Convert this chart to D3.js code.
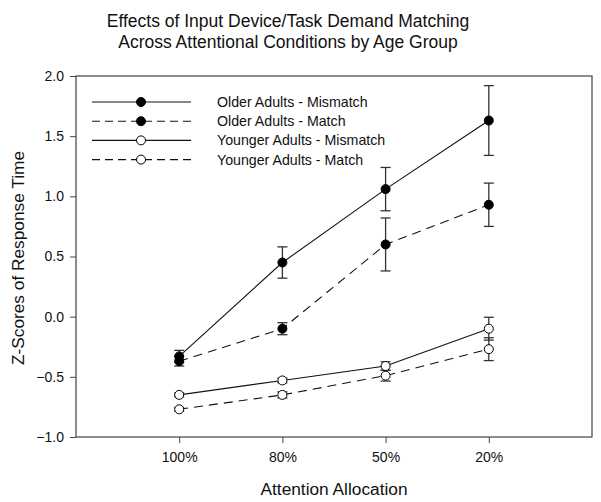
<!DOCTYPE html>
<html><head><meta charset="utf-8">
<script src="https://cdn.jsdelivr.net/npm/d3@7"></script>
<style>body{margin:0;background:#fff}svg{font-family:"Liberation Sans",Arial,sans-serif}</style>
</head><body><svg id="c" width="601" height="502"></svg>
<script>
const categories = ["100%", "80%", "50%", "20%"];
const seriesNames = ["Older Adults - Mismatch", "Older Adults - Match", "Younger Adults - Mismatch", "Younger Adults - Match"];
const olderMismatch = [-0.33, 0.45, 1.06, 1.63];
const olderMismatchErr = [0.05, 0.13, 0.18, 0.29];
const olderMatch = [-0.37, -0.10, 0.60, 0.93];
const olderMatchErr = [0.04, 0.05, 0.22, 0.18];
const youngerMismatch = [-0.65, -0.53, -0.41, -0.10];
const youngerMismatchErr = [0.015, 0.02, 0.035, 0.095];
const youngerMatch = [-0.77, -0.65, -0.49, -0.27];
const youngerMatchErr = [0.015, 0.025, 0.045, 0.095];
const yTicks = [-1.0, -0.5, 0.0, 0.5, 1.0, 1.5, 2.0];

const series = [
  {name: seriesNames[0], v: olderMismatch, e: olderMismatchErr, filled: true, dashed: false},
  {name: seriesNames[1], v: olderMatch, e: olderMatchErr, filled: true, dashed: true},
  {name: seriesNames[2], v: youngerMismatch, e: youngerMismatchErr, filled: false, dashed: false},
  {name: seriesNames[3], v: youngerMatch, e: youngerMatchErr, filled: false, dashed: true}
];

const svg = d3.select("#c");
const L = 76, R = 592, T = 76, B = 437;
const x = d3.scaleLinear().domain([0, categories.length + 1]).range([L, R]);
const y = d3.scaleLinear().domain([-1, 2]).range([B, T]);
const dash = "9,6";

// frame
svg.append("rect").attr("x", L).attr("y", T).attr("width", R - L).attr("height", B - T)
  .attr("fill", "none").attr("stroke", "#444").attr("stroke-width", 1.2);

// axes
const xAxis = d3.axisBottom(x).tickValues(categories.map((c, i) => i + 1))
  .tickFormat((d) => categories[d - 1]).tickSize(6).tickPadding(9);
const gx = svg.append("g").attr("transform", `translate(0,${B})`).call(xAxis);
gx.select(".domain").remove();
gx.selectAll("line").attr("stroke", "#444");
gx.selectAll("text").attr("font-size", 14).attr("fill", "#111").attr("font-family", "Liberation Sans, Arial, sans-serif");

const yAxis = d3.axisLeft(y).tickValues(yTicks).tickFormat(d3.format(".1f")).tickSize(6).tickPadding(6);
const gy = svg.append("g").attr("transform", `translate(${L},0)`).call(yAxis);
gy.select(".domain").remove();
gy.selectAll("line").attr("stroke", "#444");
gy.selectAll("text").attr("font-size", 14).attr("fill", "#111").attr("font-family", "Liberation Sans, Arial, sans-serif");

// titles
svg.append("text").attr("x", 288).attr("y", 27).attr("text-anchor", "middle").attr("font-size", 17.5).attr("fill", "#111")
  .text("Effects of Input Device/Task Demand Matching");
svg.append("text").attr("x", 288).attr("y", 48).attr("text-anchor", "middle").attr("font-size", 17.5).attr("fill", "#111")
  .text("Across Attentional Conditions by Age Group");
svg.append("text").attr("x", 334).attr("y", 495).attr("text-anchor", "middle").attr("font-size", 17.3).attr("fill", "#111")
  .text("Attention Allocation");
svg.append("text").attr("transform", `translate(24,258) rotate(-90)`).attr("text-anchor", "middle").attr("font-size", 17.3).attr("fill", "#111")
  .text("Z-Scores of Response Time");

const line = d3.line().x((d, i) => x(i + 1)).y((d) => y(d));

series.forEach((s) => {
  const g = svg.append("g");
  g.append("path").attr("d", line(s.v)).attr("fill", "none").attr("stroke", "#111").attr("stroke-width", 1.1)
    .attr("stroke-dasharray", s.dashed ? dash : null);
  s.v.forEach((v, i) => {
    const cx = x(i + 1), hi = y(v + s.e[i]), lo = y(v - s.e[i]);
    g.append("line").attr("x1", cx).attr("x2", cx).attr("y1", hi).attr("y2", lo).attr("stroke", "#333").attr("stroke-width", 1.3);
    [hi, lo].forEach((yy) => g.append("line").attr("x1", cx - 5).attr("x2", cx + 5).attr("y1", yy).attr("y2", yy)
      .attr("stroke", "#333").attr("stroke-width", 1.3));
  });
});
series.forEach((s) => {
  svg.append("g").selectAll("circle").data(s.v).join("circle")
    .attr("cx", (d, i) => x(i + 1)).attr("cy", (d) => y(d)).attr("r", 4.5)
    .attr("fill", s.filled ? "#000" : "#fff").attr("stroke", "#000").attr("stroke-width", 1);
});

// legend
const lg = svg.append("g");
series.forEach((s, i) => {
  const yy = 102 + i * 19.2;
  lg.append("line").attr("x1", 92).attr("x2", 191).attr("y1", yy).attr("y2", yy).attr("stroke", "#111").attr("stroke-width", 1.1)
    .attr("stroke-dasharray", s.dashed ? "8,5" : null);
  lg.append("circle").attr("cx", 141).attr("cy", yy).attr("r", 4.5).attr("fill", s.filled ? "#000" : "#fff").attr("stroke", "#000");
  lg.append("text").attr("x", 217).attr("y", yy + 5).attr("font-size", 14.2).attr("fill", "#111").text(s.name);
});
</script></body></html>
